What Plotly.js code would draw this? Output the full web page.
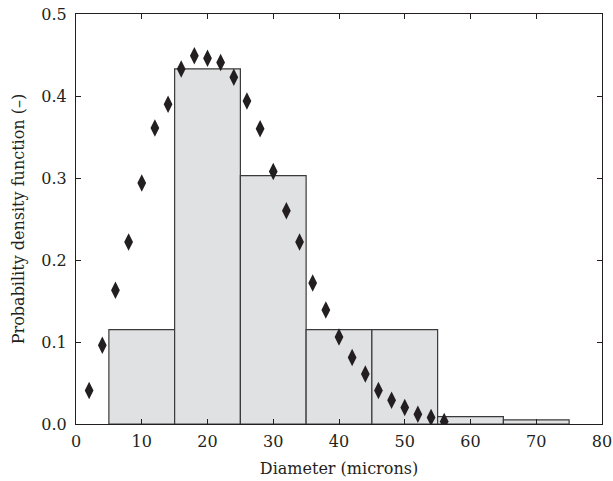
<!DOCTYPE html>
<html>
<head>
<meta charset="utf-8">
<script src="https://cdn.plot.ly/plotly-3.0.1.min.js"></script>
<style>html,body{margin:0;padding:0;background:#fff}#chart{width:613px;height:481px}</style>
</head>
<body>
<div id="chart"></div>
<script>
// Histogram bins (centres, width 10) and heights
const binCenters = [10, 20, 30, 40, 50, 60, 70];
const binHeights = [0.115, 0.433, 0.303, 0.115, 0.115, 0.009, 0.005];

// Fitted distribution points (diamonds)
const fitX = [2, 4, 6, 8, 10, 12, 14, 16, 18, 20, 22, 24, 26, 28, 30, 32, 34, 36, 38, 40, 42, 44, 46, 48, 50, 52, 54, 56];
const fitY = [0.041, 0.096, 0.163, 0.222, 0.294, 0.361, 0.390, 0.433, 0.449, 0.446, 0.441, 0.423, 0.394, 0.360, 0.308, 0.260, 0.222, 0.172, 0.139, 0.106, 0.081, 0.061, 0.041, 0.029, 0.020, 0.012, 0.008, 0.003];

const xTicks = [0, 10, 20, 30, 40, 50, 60, 70, 80];
const yTicks = [0, 0.1, 0.2, 0.3, 0.4, 0.5];

const font = "'DejaVu Serif', 'Liberation Serif', serif";
const ink = '#231f20';

const traces = [
  {
    type: 'bar', x: binCenters, y: binHeights, width: 10,
    marker: {color: '#e0e1e3', line: {color: '#3a3a3a', width: 1.2}},
    hoverinfo: 'skip'
  },
  {
    type: 'scatter', mode: 'markers', x: fitX, y: fitY,
    marker: {symbol: 'diamond-tall', size: 12.5, color: ink},
    cliponaxis: true
  }
];

const axisBase = {
  showline: true, linecolor: ink, linewidth: 1, mirror: 'ticks',
  ticks: 'inside', ticklen: 5, tickcolor: ink, tickwidth: 1,
  showgrid: false, zeroline: false,
  tickfont: {family: font, size: 16, color: ink}
};

const layout = {
  width: 613, height: 481,
  margin: {l: 76, r: 11, t: 14, b: 57},
  paper_bgcolor: '#fff', plot_bgcolor: '#fff',
  showlegend: false, bargap: 0,
  xaxis: Object.assign({}, axisBase, {
    range: [0, 80], tickvals: xTicks, ticktext: xTicks.map(String),
    ticklabelstandoff: 3,
    title: {text: 'Diameter (microns)', font: {family: font, size: 16, color: ink}, standoff: 12}
  }),
  yaxis: Object.assign({}, axisBase, {
    range: [0, 0.5], tickvals: yTicks, ticktext: yTicks.map(v => v.toFixed(1)),
    ticklabelstandoff: 5,
    title: {text: 'Probability density function (–)', font: {family: font, size: 16, color: ink}, standoff: 12}
  })
};

Plotly.newPlot('chart', traces, layout, {displayModeBar: false, staticPlot: true});
</script>
</body>
</html>
